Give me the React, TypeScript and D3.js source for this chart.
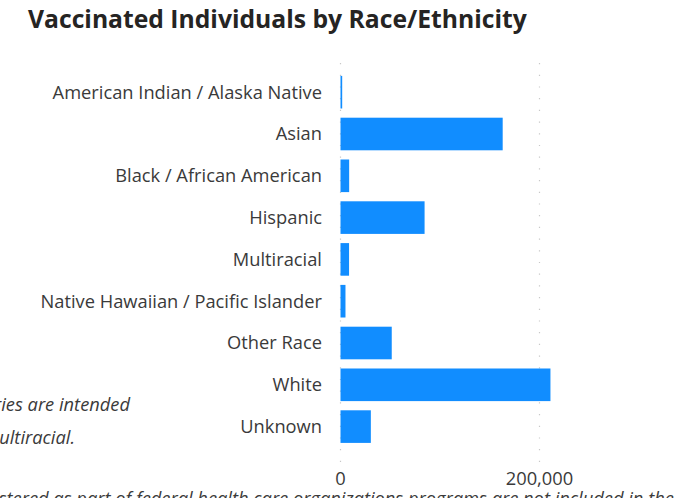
import React, { useRef, useEffect } from "react";
import * as d3 from "d3";

const categories = [
  "American Indian / Alaska Native",
  "Asian",
  "Black / African American",
  "Hispanic",
  "Multiracial",
  "Native Hawaiian / Pacific Islander",
  "Other Race",
  "White",
  "Unknown",
];
const vaccinated = [1700, 163000, 8700, 84500, 8600, 5000, 51500, 211000, 30500];
const xTicks = [0, 200000, 400000];

const noteLines = ["Non-Hispanic race categories are intended", "individuals identified as Multiracial."];
const footNote = "Doses administered as part of federal health care organizations programs are not included in the counts.";

const App: React.FC = () => {
  const svgRef = useRef<SVGSVGElement>(null);

  useEffect(() => {
    if (!svgRef.current) return;
    const width = 679;
    const height = 498;
    const svg = d3.select(svgRef.current).attr("width", width).attr("height", height);
    svg.selectAll("*").remove();

    const font = "'Open Sans', sans-serif";
    const labelSize = 18.3;

    const x = d3.scaleLinear().domain([0, 400000]).range([340.5, 738.5]);
    const y = d3
      .scaleBand<string>()
      .domain(categories)
      .range([71.3, 447.5])
      .paddingInner(0.22)
      .paddingOuter(0.11);

    // title
    svg
      .append("text")
      .attr("x", 28)
      .attr("y", 28)
      .attr("font-family", font)
      .attr("font-weight", 700)
      .attr("font-size", 24.7)
      .attr("fill", "#252423")
      .text("Vaccinated Individuals by Race/Ethnicity");

    // dotted gridlines
    svg
      .append("g")
      .selectAll("line")
      .data(xTicks)
      .enter()
      .append("line")
      .attr("x1", (d) => x(d))
      .attr("x2", (d) => x(d))
      .attr("y1", 63)
      .attr("y2", 462)
      .attr("stroke", "#c8c8c8")
      .attr("stroke-width", 1.2)
      .attr("stroke-dasharray", "1.2,10.5");

    // bars
    svg
      .append("g")
      .selectAll("rect")
      .data(categories)
      .enter()
      .append("rect")
      .attr("x", x(0))
      .attr("y", (d) => y(d)!)
      .attr("width", (_, i) => x(vaccinated[i]) - x(0))
      .attr("height", y.bandwidth())
      .attr("fill", "#118DFF");

    // category labels
    svg
      .append("g")
      .selectAll("text")
      .data(categories)
      .enter()
      .append("text")
      .attr("x", 322)
      .attr("y", (d) => y(d)! + y.bandwidth() / 2)
      .attr("dy", "0.35em")
      .attr("text-anchor", "end")
      .attr("font-family", font)
      .attr("font-size", labelSize)
      .attr("fill", "#3a3a3a")
      .text((d) => d);

    // x tick labels (the 400,000 one falls outside the visible area)
    svg
      .append("g")
      .selectAll("text")
      .data(xTicks.filter((d) => x(d) < width))
      .enter()
      .append("text")
      .attr("x", (d) => x(d))
      .attr("y", 485)
      .attr("text-anchor", "middle")
      .attr("font-family", font)
      .attr("font-size", labelSize)
      .attr("fill", "#3a3a3a")
      .text((d) => d3.format(",")(d));

    // side note (cut off on the left)
    const noteEnds = [130, 75];
    svg
      .append("g")
      .selectAll("text")
      .data(noteLines)
      .enter()
      .append("text")
      .attr("x", (_, i) => noteEnds[i])
      .attr("y", (_, i) => 411 + i * 33)
      .attr("text-anchor", "end")
      .attr("font-family", font)
      .attr("font-style", "italic")
      .attr("font-size", labelSize)
      .attr("fill", "#3a3a3a")
      .text((d) => d);

    // footnote (cut off at bottom)
    svg
      .append("text")
      .attr("x", -110)
      .attr("y", 505)
      .attr("font-family", font)
      .attr("font-style", "italic")
      .attr("font-size", labelSize)
      .attr("fill", "#3a3a3a")
      .text(footNote);
  }, []);

  return (
    <div style={{ position: "fixed", left: 0, top: 0, width: 679, height: 498, overflow: "hidden", background: "#fff" }}>
      <svg ref={svgRef} style={{ display: "block" }}></svg>
    </div>
  );
};

export default App;
